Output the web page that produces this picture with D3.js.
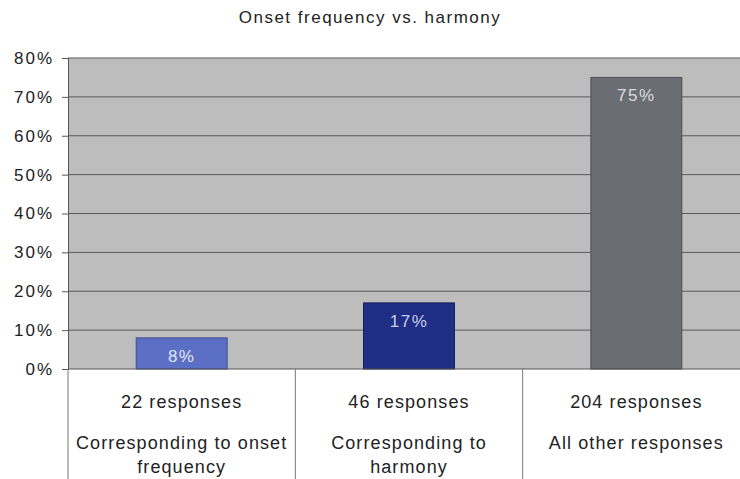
<!DOCTYPE html>
<html><head><meta charset="utf-8">
<script src="https://cdn.jsdelivr.net/npm/d3@7"></script>
<style>body{margin:0;background:#fff}svg{display:block}text{font-family:"Liberation Sans",Arial,sans-serif}</style>
</head><body><svg id="c" width="740" height="479"></svg>
<script>
const categories = ["c1","c2","c3"];
const values = [0.08, 0.17, 0.75];
const valueLabels = ["8%","17%","75%"];
const responseLabels = ["22 responses","46 responses","204 responses"];
const descLabels = [["Corresponding to onset","frequency"],["Corresponding to","harmony"],["All other responses"]];
const yTicks = [0,0.1,0.2,0.3,0.4,0.5,0.6,0.7,0.8];
const barColors = ["#5b6fc4","#1f2d85","#6a6d73"];
const barStroke = ["#3c4c92","#141e5c","#4c4f55"];
const labelColors = ["#e2e6f6","#c9cdea","#dcdcdc"];

const svg = d3.select("#c");
const mLeft = 68, mRight = 750, mTop = 58, mBottom = 369;
const x = d3.scaleBand().domain(categories).range([mLeft,mRight]).paddingInner(0.6).paddingOuter(0.3);
const xb = d3.scaleBand().domain(categories).range([mLeft,mRight]);
const y = d3.scaleLinear().domain([0,0.8]).range([mBottom,mTop]);

svg.append("text").attr("x",370).attr("y",23).attr("text-anchor","middle")
  .attr("font-size",17).attr("letter-spacing",1.5).attr("fill","#222").text("Onset frequency vs. harmony");

svg.append("rect").attr("x",mLeft).attr("y",mTop).attr("width",mRight-mLeft).attr("height",mBottom-mTop)
  .attr("fill","#bdbdbd");

const yAxis = d3.axisLeft(y).tickValues(yTicks).tickFormat(d3.format(".0%")).tickSize(6).tickPadding(8);
const ga = svg.append("g").attr("transform",`translate(${mLeft},0)`).call(yAxis);
ga.select(".domain").attr("stroke","#555");
ga.selectAll(".tick line").attr("stroke","#555");
ga.selectAll(".tick text").attr("font-size",17).attr("letter-spacing",2).attr("fill","#222")
  .attr("font-family","Liberation Sans, Arial, sans-serif");

svg.append("g").selectAll("line").data(yTicks.filter(d=>d>0)).join("line")
  .attr("x1",mLeft).attr("x2",mRight).attr("y1",d=>y(d)).attr("y2",d=>y(d))
  .attr("stroke","#5a5a5a").attr("stroke-width",1);

svg.append("g").selectAll("rect").data(values).join("rect")
  .attr("x",(d,i)=>x(categories[i])).attr("y",d=>y(d))
  .attr("width",x.bandwidth()).attr("height",d=>y(0)-y(d))
  .attr("fill",(d,i)=>barColors[i]).attr("stroke",(d,i)=>barStroke[i]).attr("stroke-width",1);

svg.append("g").selectAll("text").data(values).join("text")
  .attr("x",(d,i)=>x(categories[i])+x.bandwidth()/2).attr("y",d=>y(d)+24)
  .attr("text-anchor","middle").attr("font-size",17).attr("letter-spacing",1.5)
  .attr("fill",(d,i)=>labelColors[i])
  .text((d,i)=>valueLabels[i]);

svg.append("line").attr("x1",mLeft).attr("x2",mRight).attr("y1",mBottom).attr("y2",mBottom).attr("stroke","#555");

svg.append("g").selectAll("line").data(categories).join("line")
  .attr("x1",d=>xb(d)).attr("x2",d=>xb(d)).attr("y1",mBottom).attr("y2",479)
  .attr("stroke","#777").attr("stroke-width",1);

const lab = svg.append("g");
categories.forEach((c,i)=>{
  const cx = xb(c)+xb.bandwidth()/2;
  lab.append("text").attr("x",cx).attr("y",408).attr("text-anchor","middle")
    .attr("font-size",18).attr("letter-spacing",1.1).attr("fill","#222").text(responseLabels[i]);
  descLabels[i].forEach((t,j)=>{
    lab.append("text").attr("x",cx).attr("y",449+j*24).attr("text-anchor","middle")
      .attr("font-size",18).attr("letter-spacing",1.1).attr("fill","#222").text(t);
  });
});
</script></body></html>
